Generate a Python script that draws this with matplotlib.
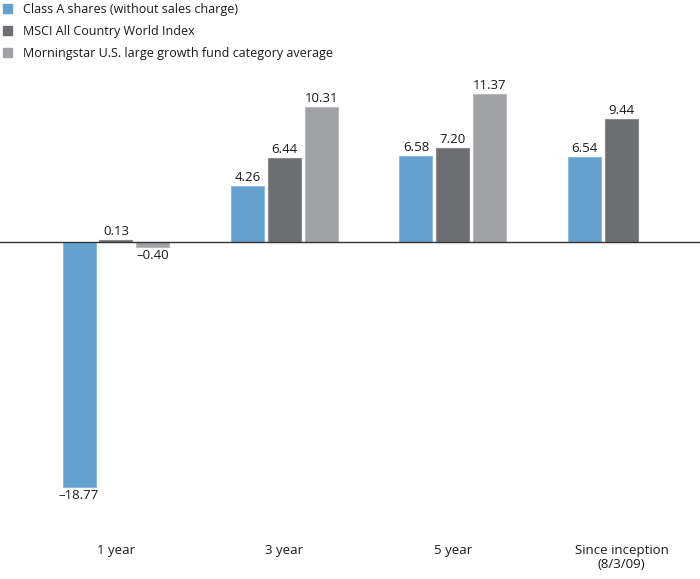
import matplotlib
matplotlib.use("Agg")
import matplotlib.pyplot as plt
from matplotlib.patches import Patch
import numpy as np

categories = ["1 year", "3 year", "5 year", "Since inception\n(8/3/09)"]
series_names = ["Class A shares (without sales charge)",
                "MSCI All Country World Index",
                "Morningstar U.S. large growth fund category average"]
class_a = [-18.77, 4.26, 6.58, 6.54]
msci = [0.13, 6.44, 7.20, 9.44]
morningstar = [-0.40, 10.31, 11.37, None]
colors = ["#65a1cf", "#6d6e71", "#a1a2a5"]
edges = ["#8dbbe0", "#8a8b8e", "#b9babc"]

plt.rcParams['font.family'] = ['Open Sans', 'DejaVu Sans']

W, H = 700, 579
fig = plt.figure(figsize=(W / 100, H / 100), dpi=100)
top_px, bot_px = 90, 490
ax = fig.add_axes([0, (H - bot_px) / H, 1, (bot_px - top_px) / H])

zero_px = 242
ppu = 13.05
ax.set_ylim(-(bot_px - zero_px) / ppu, (zero_px - top_px) / ppu)
gs = 168.5
c0 = 116
ax.set_xlim(-c0 / gs, (W - c0) / gs)

x = np.arange(len(categories))
bw = 33 / gs
step = 37 / gs
all_series = [class_a, msci, morningstar]
for i, vals in enumerate(all_series):
    for j, v in enumerate(vals):
        if v is None:
            continue
        xp = x[j] + (i - 1) * step
        ax.bar(xp, v, width=bw, color=colors[i], edgecolor=edges[i], linewidth=0.8, zorder=2)
        label = f"{v:.2f}".replace("-", "\u2013")
        if v >= 0:
            ax.annotate(label, (xp, v), xytext=(0, 1.5), textcoords="offset points",
                        ha="center", va="bottom", fontsize=9.5, color="#1a1a1a")
        else:
            ax.annotate(label, (xp, v), xytext=(0, -1.5), textcoords="offset points",
                        ha="center", va="top", fontsize=9.5, color="#1a1a1a")

ax.axhline(0, color="#333333", linewidth=1.0, zorder=3)

for s in ax.spines.values():
    s.set_visible(False)
ax.set_yticks([])
ax.set_xticks([])

for j, cat in enumerate(categories):
    fig.text((c0 + gs * j) / W, 1 - 544 / H, cat, ha="center", va="top",
             fontsize=9.5, color="#1a1a1a", linespacing=1.1)

handles = [Patch(facecolor=c, edgecolor=c) for c in colors]
leg = fig.legend(handles, series_names, loc="upper left", bbox_to_anchor=(0.0, 1.0),
                 frameon=False, fontsize=9, handlelength=0.75, handleheight=0.75,
                 handletextpad=0.9, labelspacing=0.75, borderaxespad=0.1, borderpad=0.1)
for t in leg.get_texts():
    t.set_color("#1a1a1a")

fig.savefig("out.png", dpi=100)
